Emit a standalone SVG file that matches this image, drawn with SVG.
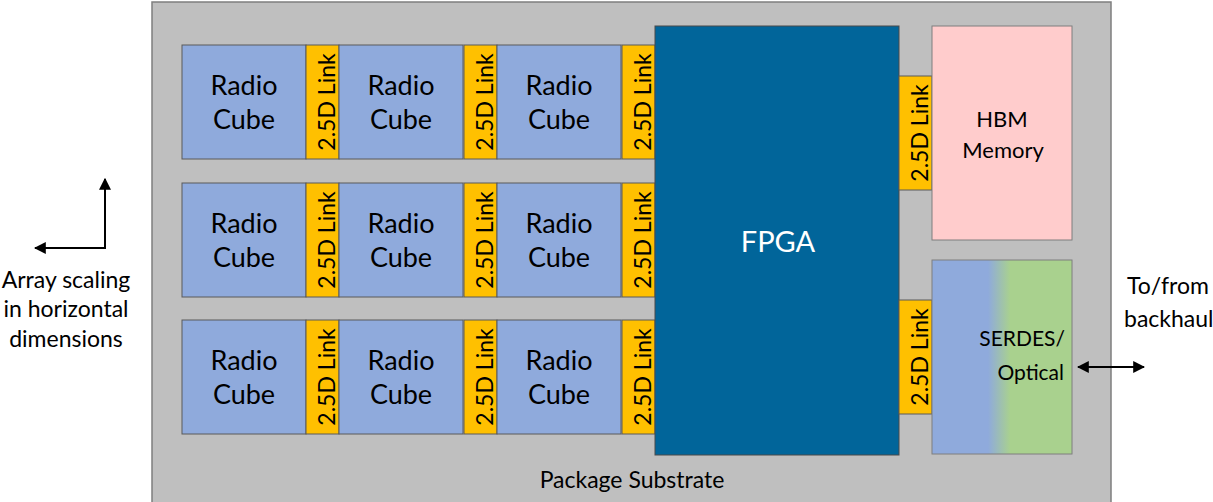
<svg xmlns="http://www.w3.org/2000/svg" width="1213" height="502" viewBox="0 0 1213 502">
<style>
text{font-family:Lato,"Open Sans","Liberation Sans",sans-serif;fill:#000}
.cube{fill:#8FAADC;stroke:#5a5a5a;stroke-width:1}
.link{fill:#FFC000;stroke:#5a5a5a;stroke-width:1}
.ct{font-size:27px;text-anchor:middle}
.lt{font-size:23px;text-anchor:middle}
.lbl{font-size:23px;text-anchor:middle}
.con{stroke:#000;stroke-width:2;fill:none}
</style>
<defs>
<marker id="ah" viewBox="0 0 10 10" refX="9" refY="5" markerWidth="6" markerHeight="6" orient="auto-start-reverse" markerUnits="strokeWidth"><path d="M0,0L10,5L0,10z" fill="#000"/></marker>
<linearGradient id="sg" x1="0" y1="0" x2="1" y2="0"><stop offset="0.4" stop-color="#8FAADC"/><stop offset="0.56" stop-color="#A9D18E"/></linearGradient>
<g id="rc"><rect class="cube" x="0" y="0" width="124" height="114"/><text class="ct" x="62" y="50">Radio</text><text class="ct" x="62" y="84">Cube</text></g>
<g id="lk"><rect class="link" x="0" y="0" width="33" height="114"/><text class="lt" transform="translate(29,57) rotate(-90)">2.5D Link</text></g>
</defs>
<g id="substrate"><rect x="152" y="2" width="959" height="520" fill="#BFBFBF" stroke="#7F7F7F" stroke-width="1.5"/><text class="lbl" x="632" y="488">Package Substrate</text></g>
<g id="row1">
<use href="#rc" x="182" y="45"/><use href="#lk" x="306" y="45"/><use href="#rc" x="339" y="45"/><use href="#lk" x="464" y="45"/><use href="#rc" x="497" y="45"/><use href="#lk" x="622" y="45"/>
</g>
<g id="row2">
<use href="#rc" x="182" y="183"/><use href="#lk" x="306" y="183"/><use href="#rc" x="339" y="183"/><use href="#lk" x="464" y="183"/><use href="#rc" x="497" y="183"/><use href="#lk" x="622" y="183"/>
</g>
<g id="row3">
<use href="#rc" x="182" y="320"/><use href="#lk" x="306" y="320"/><use href="#rc" x="339" y="320"/><use href="#lk" x="464" y="320"/><use href="#rc" x="497" y="320"/><use href="#lk" x="622" y="320"/>
</g>
<g id="fpga"><rect x="655" y="26" width="244" height="429" fill="#01659A" stroke="#4a4a4a" stroke-width="1"/><text x="778" y="252" style="font-size:29px;text-anchor:middle;fill:#fff">FPGA</text></g>
<g id="hbm-link"><use href="#lk" x="899" y="76"/></g>
<g id="hbm"><rect x="932" y="26" width="140" height="214" fill="#FFCCCC" stroke="#7F7F7F" stroke-width="1"/><text class="lbl" x="1002" y="127" style="font-size:22px">HBM</text><text class="lbl" x="1003" y="158" style="font-size:22px">Memory</text></g>
<g id="serdes-link"><use href="#lk" x="899" y="300"/></g>
<g id="serdes"><rect x="932" y="260" width="140" height="194" fill="url(#sg)" stroke="#7F7F7F" stroke-width="1"/><text x="1065" y="346" style="font-size:21px;text-anchor:end">SERDES/</text><text x="1064" y="380" style="font-size:21px;text-anchor:end">Optical</text></g>
<g id="backhaul"><text class="lbl" x="1168" y="294">To/from</text><text x="1124" y="327" style="font-size:23px">backhaul</text></g>
<g id="legend"><text class="lbl" x="66" y="288">Array scaling</text><text class="lbl" x="66" y="317">in horizontal</text><text class="lbl" x="66" y="347">dimensions</text></g>
<g id="connectors">
<path class="con" d="M1078,367H1144" marker-start="url(#ah)" marker-end="url(#ah)"/>
<path class="con" d="M105,179V248H35" marker-start="url(#ah)" marker-end="url(#ah)"/>
</g>
</svg>
